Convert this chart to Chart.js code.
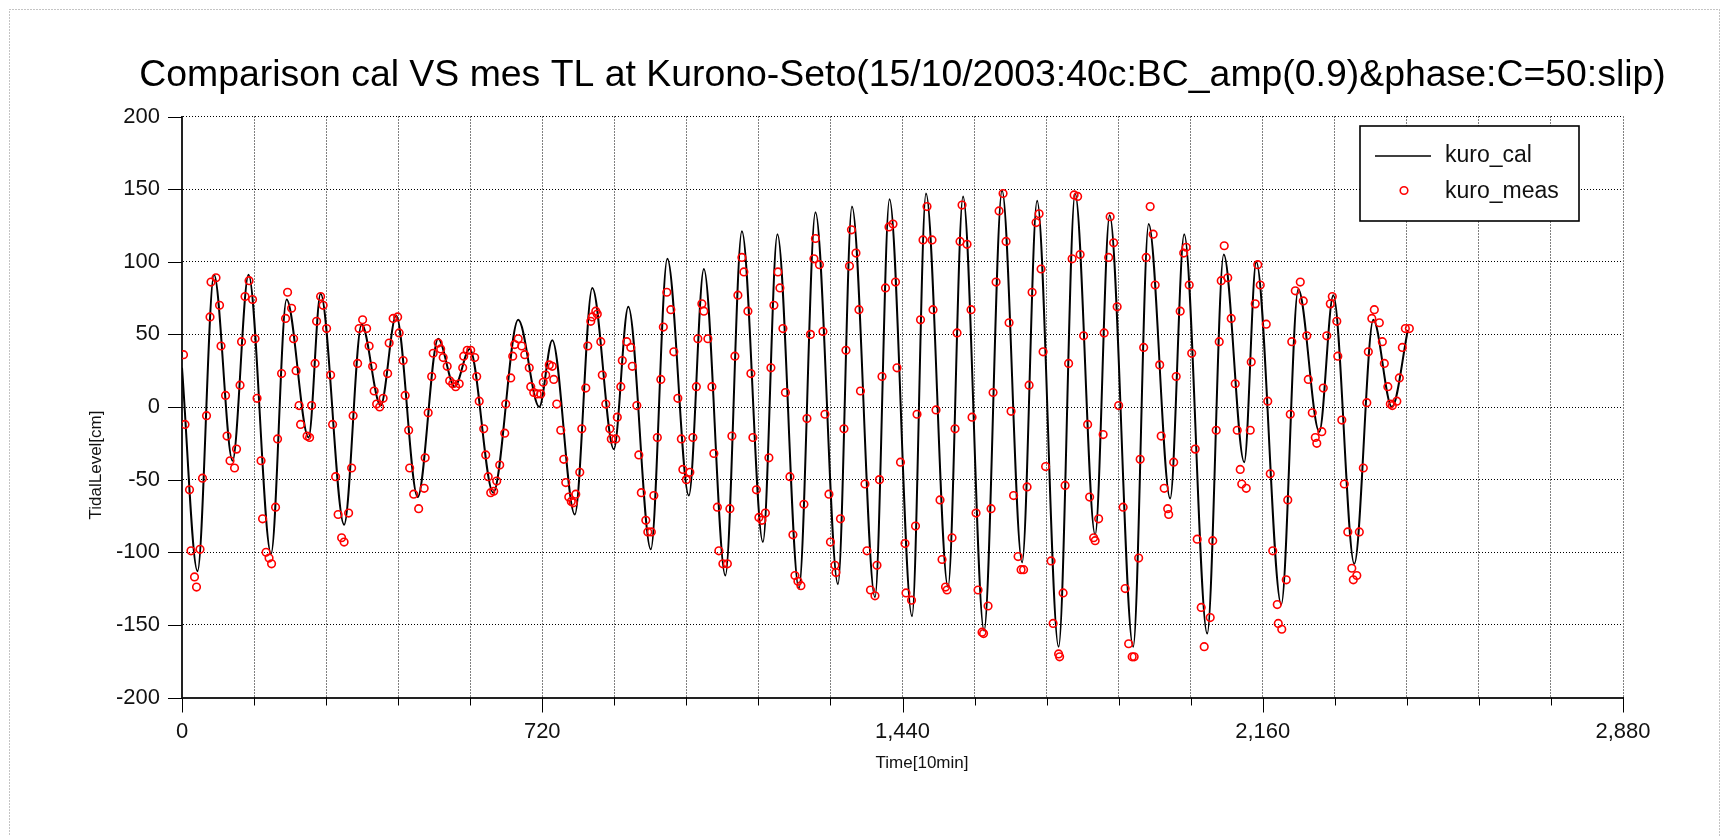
<!DOCTYPE html>
<html>
<head>
<meta charset="utf-8">
<script src="https://cdn.jsdelivr.net/npm/chart.js@4.4.0/dist/chart.umd.min.js"></script>
<style>
  html, body { margin: 0; padding: 0; background: #fff; }
  #wrap { position: relative; width: 1725px; height: 836px; }
</style>
</head>
<body>
<div id="wrap"><canvas id="chart" width="1725" height="836"></canvas></div>
<script>
// calculated tide: turning points (time in 10 min steps, level in cm)
const calT = [0,31,64,101,133,178,209,253,277,324,359,397,428,471,512,545,575,622,672,714,740,785,820,863,892,937,970,1013,1043,1086,1119,1161,1190,1233,1266,1311,1339,1385,1414,1459,1487,1531,1561,1603,1639,1679,1709,1752,1785,1825,1854,1901,1932,1975,2003,2049,2082,2123,2147,2197,2231,2273,2301,2343,2381,2418,2450];
const calV = [27,-113,91,-37,91,-101,74,-21,78,-81,57,1,63,-62,47,14,40,-59,60,0,46,-74,82,-29,69,-98,102,-61,95,-116,121,-93,119,-125,134,-122,138,-131,143,-144,147,-124,145,-154,149,-107,142,-165,147,-88,132,-165,126,-63,119,-156,105,-38,100,-136,81,-17,77,-108,60,0,53];

// measured tide (hourly samples)
const measT = [
  3,6,15,18,25,29,36,41,49,56,58,68,75,78,87,90,96,105,109,116,119,126,134,141,146,150,158,161,168,174,179,187,191,199,207,211,219,223,228,234,237,
  250,255,259,266,269,277,282,289,297,301,307,312,319,324,333,339,342,351,354,361,369,374,381,384,389,395,402,411,414,422,431,434,442,446,453,455,463,473,484,486,
  492,499,502,512,517,522,530,535,541,547,554,561,563,570,577,585,589,594,603,607,612,617,623,629,635,645,647,657,661,665,672,679,685,694,697,703,710,717,722,727,734,
  740,743,749,757,763,767,773,778,782,787,795,799,807,811,817,820,827,830,837,840,847,855,858,867,870,877,880,889,897,900,909,913,918,927,931,938,943,950,957,962,969,977,983,
  991,998,1001,1008,1015,1021,1028,1031,1039,1043,1051,1059,1063,1070,1073,1081,1090,1095,1099,1105,1111,1119,1123,1131,1137,1141,1148,1153,1159,1166,1173,1177,1183,1191,1195,1201,1206,1215,1221,1225,1231,
  1237,1243,1249,1256,1263,1266,1274,1281,1285,1293,1296,1305,1307,1316,1323,1327,1334,1338,1347,1353,1356,1365,1369,1376,1385,1389,1394,1399,1406,1413,1421,1426,1429,1436,1445,1447,1458,1466,1469,1476,1481,
  1489,1499,1501,1507,1515,1519,1526,1529,1539,1545,1549,1555,1559,1569,1577,1579,1587,1591,1599,1602,1611,1617,1621,1627,1633,1641,1647,1653,1657,1662,1671,1677,1682,1689,1693,1699,1707,1713,1717,1721,1726,
  1737,1741,1752,1754,1761,1765,1772,1779,1783,1790,1795,1802,1810,1814,1822,1825,1832,1841,1843,1852,1855,1862,1869,1872,1881,1885,1892,1899,1903,1912,1915,1922,1927,1935,1941,1945,1954,1957,1963,1970,1972,
  1982,1987,1995,2002,2007,2013,2018,2025,2029,2037,2043,2055,2060,2067,2073,2077,2083,2090,2097,2105,2109,2115,2118,2127,2135,2137,2145,2150,2155,2167,2170,2175,2180,2189,2191,2198,2207,2210,2215,2218,2225,
  2235,2241,2248,2251,2259,2265,2268,2278,2281,2288,2295,2299,2308,2310,2318,2323,2330,2338,2341,2348,2353,2361,2368,2371,2378,2383,2393,2399,2403,2410,2415,2419,2428,2433,2439,2445,2453
];
const measV = [
  36,-12,-57,-99,-117,-124,-98,-49,-6,62,86,89,70,42,8,-20,-37,-42,-29,15,45,76,87,74,47,6,-37,-77,-100,-104,-108,-69,-22,23,61,79,68,47,25,1,-12,
  -20,-21,1,30,59,76,70,54,22,-12,-48,-74,-90,-93,-73,-42,-6,30,54,60,54,42,28,11,2,0,6,23,44,61,62,51,32,8,-16,-42,-60,-70,-56,-35,
  -4,21,37,44,40,34,28,18,16,14,16,27,35,39,39,34,21,4,-15,-33,-48,-59,-58,-51,-40,-18,2,20,35,43,47,42,36,27,14,10,9,9,17,22,29,
  28,19,2,-16,-36,-52,-62,-65,-66,-60,-45,-15,13,42,59,62,66,64,45,22,2,-15,-22,-22,-7,14,32,45,41,28,1,-33,-59,-78,-86,-86,-61,-21,19,55,79,67,38,
  6,-22,-43,-50,-45,-21,14,47,71,66,47,14,-32,-69,-99,-108,-108,-70,-20,35,77,103,93,66,23,-21,-57,-76,-78,-73,-35,27,70,93,82,54,10,-48,-88,-116,-120,
  -123,-67,-8,50,102,116,98,52,-5,-60,-93,-109,-114,-77,-15,39,97,122,106,67,11,-53,-99,-126,-130,-109,-50,21,82,124,126,86,27,-38,-94,-128,-133,-82,-5,60,115,
  138,115,67,-2,-64,-105,-124,-126,-90,-15,51,114,139,112,67,-7,-73,-126,-155,-156,-137,-70,10,86,135,147,114,58,-3,-61,-103,-112,-112,-55,15,79,127,133,95,38,-41,
  -106,-149,-170,-172,-128,-54,30,102,146,145,105,49,-12,-62,-90,-92,-77,-19,51,103,131,113,69,1,-69,-125,-163,-172,-172,-104,-36,41,103,138,119,84,29,-20,-56,-70,-74,
  -38,21,66,106,110,84,37,-29,-91,-138,-165,-145,-92,-16,45,87,111,89,61,16,-16,-43,-53,-56,-16,31,71,98,84,57,4,-46,-99,-136,-149,-153,-119,-64,-5,45,80,
  86,73,49,19,-4,-21,-25,-17,13,49,71,76,59,35,-9,-53,-86,-111,-119,-116,-86,-42,3,38,61,67,58,45,30,14,2,1,4,20,41,54,54
];

const xTickValues = [0,144,288,432,576,720,864,1008,1152,1296,1440,1584,1728,1872,2016,2160,2304,2448,2592,2736,2880];
const xLabelValues = [0,720,1440,2160,2880];
const yTickValues = [-200,-150,-100,-50,0,50,100,150,200];

const TITLE = 'Comparison cal VS mes TL at Kurono-Seto(15/10/2003:40c:BC_amp(0.9)&phase:C=50:slip)';
const FONT = "'Liberation Sans', Arial, sans-serif";

// frame, title, tick marks, axis titles and the boxed legend
const decorations = {
  id: 'decorations',
  beforeDraw(chart) {
    const ctx = chart.ctx;
    ctx.save();
    ctx.strokeStyle = '#888';
    ctx.lineWidth = 1;
    ctx.setLineDash([1, 2]);
    ctx.strokeRect(9.5, 9.5, 1710, 900);
    ctx.restore();
  },
  afterDraw(chart) {
    const ctx = chart.ctx;
    const xs = chart.scales.x, ys = chart.scales.y, a = chart.chartArea;
    ctx.save();

    // title, centred over the plot area (wider than it)
    ctx.fillStyle = '#000';
    ctx.font = '37.4px ' + FONT;
    ctx.textAlign = 'center';
    ctx.textBaseline = 'middle';
    ctx.fillText(TITLE, (a.left + a.right) / 2, 76);

    ctx.strokeStyle = '#000';
    ctx.lineWidth = 1;
    ctx.beginPath();
    xTickValues.forEach(v => {
      const px = Math.round(xs.getPixelForValue(v)) + 0.5;
      const len = xLabelValues.includes(v) ? 15 : 8;
      ctx.moveTo(px, a.bottom);
      ctx.lineTo(px, a.bottom + len);
    });
    yTickValues.forEach(v => {
      const py = Math.round(ys.getPixelForValue(v)) + 0.5;
      ctx.moveTo(a.left - 14, py);
      ctx.lineTo(a.left, py);
    });
    ctx.stroke();

    // axis titles
    ctx.fillStyle = '#111';
    ctx.font = '17px ' + FONT;
    ctx.fillText('Time[10min]', 922, 763);
    ctx.save();
    ctx.translate(96, 465);
    ctx.rotate(-Math.PI / 2);
    ctx.fillText('TidalLevel[cm]', 0, 0);
    ctx.restore();

    // legend
    ctx.fillStyle = '#fff';
    ctx.fillRect(1360, 126, 219, 95);
    ctx.lineWidth = 1.6;
    ctx.strokeRect(1360, 126, 219, 95);
    ctx.beginPath();
    ctx.lineWidth = 1.4;
    ctx.moveTo(1375, 156);
    ctx.lineTo(1431, 156);
    ctx.stroke();
    ctx.beginPath();
    ctx.strokeStyle = '#ff0000';
    ctx.lineWidth = 1.6;
    ctx.arc(1404, 190.5, 3.8, 0, Math.PI * 2);
    ctx.stroke();
    ctx.fillStyle = '#111';
    ctx.font = '23px ' + FONT;
    ctx.textAlign = 'left';
    ctx.textBaseline = 'alphabetic';
    ctx.fillText('kuro_cal', 1445, 162);
    ctx.fillText('kuro_meas', 1445, 197.5);
    ctx.restore();
  }
};

const ctx = document.getElementById('chart').getContext('2d');
new Chart(ctx, {
  type: 'line',
  data: {
    datasets: [
      {
        label: 'kuro_cal',
        data: calT.map((t, i) => ({ x: t, y: calV[i] })),
        borderColor: '#000',
        borderWidth: 2,
        pointRadius: 0,
        cubicInterpolationMode: 'monotone',
        fill: false,
        order: 2
      },
      {
        label: 'kuro_meas',
        data: measT.map((t, i) => ({ x: t, y: measV[i] })),
        showLine: false,
        pointStyle: 'circle',
        pointRadius: 3.8,
        pointBorderWidth: 1.6,
        pointBorderColor: '#ff0000',
        pointBackgroundColor: 'rgba(0,0,0,0)',
        order: 1
      }
    ]
  },
  options: {
    responsive: false,
    animation: false,
    devicePixelRatio: 1,
    layout: { padding: { left: 0, right: 102, top: 116.5, bottom: 0 } },
    plugins: {
      legend: { display: false },
      tooltip: { enabled: false },
      title: { display: false }
    },
    scales: {
      x: {
        type: 'linear',
        min: 0,
        max: 2880,
        afterBuildTicks: s => { s.ticks = xTickValues.map(v => ({ value: v })); },
        afterFit: s => { s.height = 836 - 697.5; },
        ticks: {
          autoSkip: false,
          maxRotation: 0,
          padding: 21,
          color: '#111',
          font: { family: FONT, size: 22 },
          callback: v => xLabelValues.includes(v) ? v.toLocaleString('en-US') : ''
        },
        grid: { color: '#000', lineWidth: 1, drawTicks: false },
        border: { display: true, color: '#222', width: 2, dash: [1, 2] }
      },
      y: {
        min: -200,
        max: 200,
        afterBuildTicks: s => { s.ticks = yTickValues.map(v => ({ value: v })); },
        afterFit: s => { s.width = 182; },
        ticks: {
          padding: 22,
          color: '#111',
          font: { family: FONT, size: 22 },
          callback: v => String(v)
        },
        grid: { color: '#000', lineWidth: 1, drawTicks: false },
        border: { display: true, color: '#222', width: 2, dash: [1, 2] }
      }
    }
  },
  plugins: [decorations]
});
</script>
</body>
</html>
